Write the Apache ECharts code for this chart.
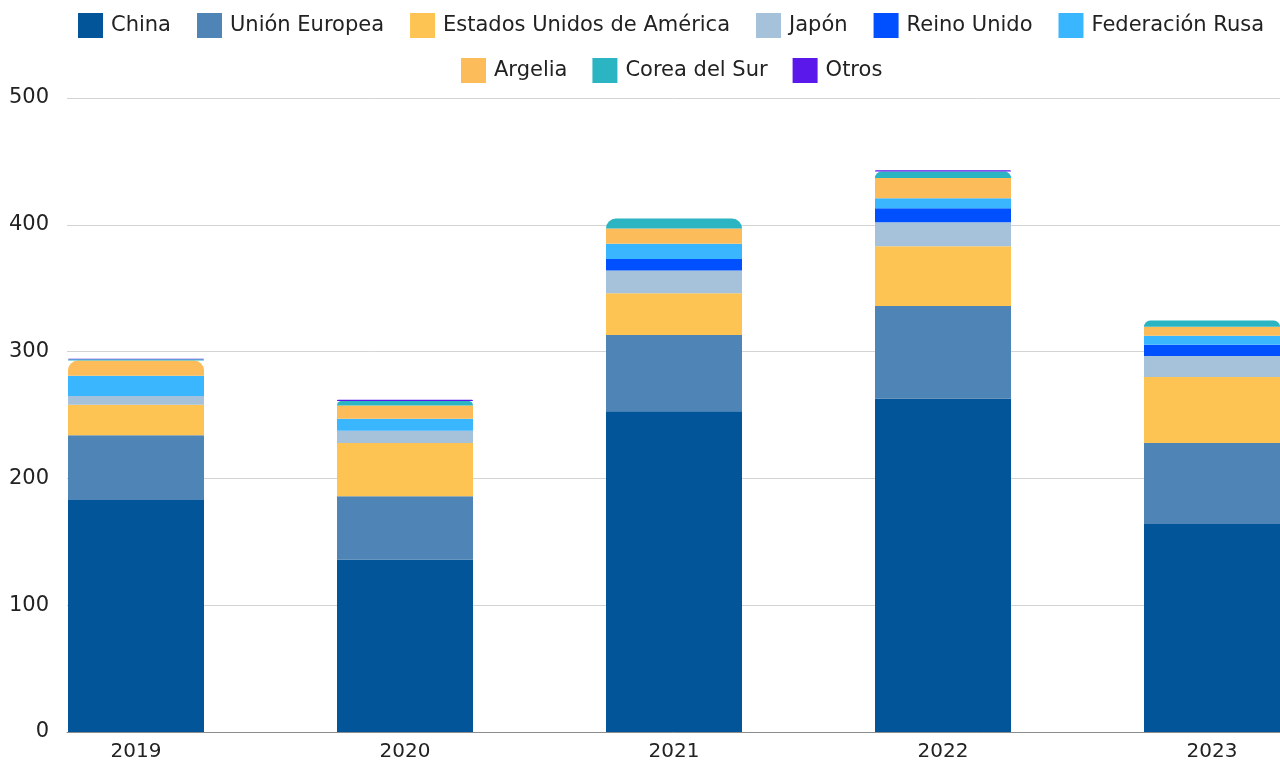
<!DOCTYPE html>
<html>
<head>
<meta charset="utf-8">
<script src="https://cdn.jsdelivr.net/npm/echarts@6/dist/echarts.min.js"></script>
<style>
  html, body { margin: 0; padding: 0; background: #fff; }
  #chart { width: 1280px; height: 763px; }
</style>
</head>
<body>
<div id="chart"></div>
<script>
var years = ['2019', '2020', '2021', '2022', '2023'];
var china = [183, 136, 253, 263, 164];
var unionEuropea = [51, 50, 60, 73, 64];
var estadosUnidos = [24, 42, 33, 47, 52];
var japon = [7, 9.5, 18, 19, 16.5];
var reinoUnido = [0, 0, 9, 11, 9];
var federacionRusa = [16, 9.5, 12, 8, 7];
var argelia = [12, 10.5, 12, 16, 7];
var coreaDelSur = [1, 3.5, 8, 5, 5];
var otros = [0.3, 1, 0, 1, 0];
var yTicks = [0, 100, 200, 300, 400, 500];

var seriesDefs = [
  { name: 'China', data: china, color: '#03559A' },
  { name: 'Unión Europea', data: unionEuropea, color: '#4E84B6' },
  { name: 'Estados Unidos de América', data: estadosUnidos, color: '#FDC353' },
  { name: 'Japón', data: japon, color: '#A5C2DA' },
  { name: 'Reino Unido', data: reinoUnido, color: '#0050FF' },
  { name: 'Federación Rusa', data: federacionRusa, color: '#3AB6FF' },
  { name: 'Argelia', data: argelia, color: '#FDBC5A' },
  { name: 'Corea del Sur', data: coreaDelSur, color: '#2BB4C2' },
  { name: 'Otros', data: otros, color: '#5B18EA' }
];

// totals per year, to round the top of each stack
var totals = years.map(function (y, i) {
  return seriesDefs.reduce(function (s, d) { return s + d.data[i]; }, 0);
});

var FONT = 'DejaVu Sans';
var myChart = echarts.init(document.getElementById('chart'));

var series = seriesDefs.map(function (def, k) {
  return {
    name: def.name,
    type: 'bar',
    stack: 'total',
    xAxisIndex: 1,
    yAxisIndex: 1,
    barWidth: 136,
    clip: false,
    itemStyle: { color: def.color },
    emphasis: { disabled: true },
    data: def.data.map(function (v, i) {
      var below = 0;
      for (var j = 0; j < k; j++) below += seriesDefs[j].data[i];
      var top = below + v;
      if (v > 0 && top >= totals[i] - 2.5) {
        return { value: v, itemStyle: { borderRadius: [10, 10, 0, 0] } };
      }
      return v;
    })
  };
});

var legendText = { color: '#222', fontSize: 21, fontFamily: FONT, padding: [0, 0, 0, 3] };

var option = {
  backgroundColor: '#fff',
  animation: false,
  legend: [
    {
      data: seriesDefs.slice(0, 6).map(function (d) { return d.name; }),
      left: 78,
      top: 13,
      padding: 0,
      itemWidth: 25,
      itemHeight: 25,
      itemGap: 26,
      icon: 'rect',
      textStyle: legendText
    },
    {
      data: seriesDefs.slice(6).map(function (d) { return d.name; }),
      left: 461,
      top: 58,
      padding: 0,
      itemWidth: 25,
      itemHeight: 25,
      itemGap: 25,
      icon: 'rect',
      textStyle: legendText
    }
  ],
  grid: [
    { left: 67, right: 0, top: 98, bottom: 31 },
    { left: 136, right: 68, top: 98, bottom: 31 }
  ],
  xAxis: [
    {
      type: 'category',
      gridIndex: 0,
      data: years,
      axisLine: { show: true, lineStyle: { color: '#8c8c8c', width: 1 } },
      axisTick: { show: false },
      axisLabel: { show: false },
      splitLine: { show: false }
    },
    {
      type: 'category',
      gridIndex: 1,
      data: years,
      boundaryGap: false,
      axisLine: { show: false },
      axisTick: { show: false },
      axisLabel: { color: '#222', fontSize: 20, fontFamily: FONT, margin: 10 },
      splitLine: { show: false }
    }
  ],
  yAxis: [
    {
      type: 'value',
      gridIndex: 0,
      min: yTicks[0],
      max: yTicks[yTicks.length - 1],
      interval: 100,
      axisLine: { show: false },
      axisTick: { show: false },
      axisLabel: { color: '#222', fontSize: 21, fontFamily: FONT, margin: 18, padding: [3, 0, 0, 0] },
      splitLine: { show: true, lineStyle: { color: '#d4d4d4', width: 1 } }
    },
    {
      type: 'value',
      gridIndex: 1,
      min: yTicks[0],
      max: yTicks[yTicks.length - 1],
      show: false
    }
  ],
  series: series
};
option && myChart.setOption(option);
</script>
</body>
</html>
